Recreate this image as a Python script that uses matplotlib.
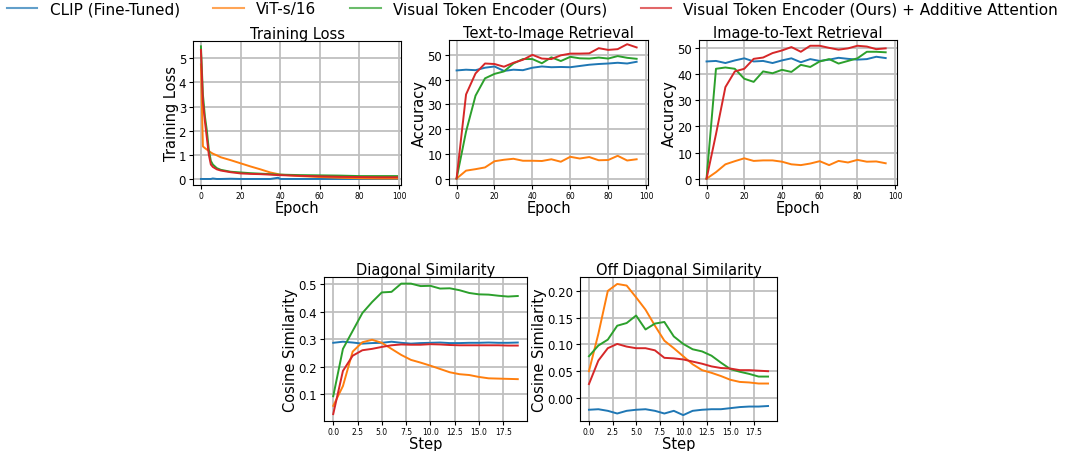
import matplotlib
matplotlib.use('Agg')
import matplotlib.pyplot as plt
from matplotlib.lines import Line2D
from matplotlib.ticker import MultipleLocator

names = ['CLIP (Fine-Tuned)', 'ViT-s/16', 'Visual Token Encoder (Ours)',
         'Visual Token Encoder (Ours) + Additive Attention']
colors = ['tab:blue', 'tab:orange', 'tab:green', 'tab:red']

# training loss (logged at these epochs)
loss_epochs = [0, 1, 2, 3, 4, 5, 6, 8, 10, 15, 20, 25, 30, 35, 39, 40, 50, 60, 70, 80, 90, 99]
loss_clip = [0.0, 0.0, 0.0, 0.0, 0.0, 0.0, 0.02, 0.0, 0.0, 0.01, 0.0, 0.0, 0.0, 0.0, 0.05,
             0.0, 0.0, 0.0, 0.0, 0.0, 0.0, 0.0]
loss_vit = [4.75, 1.35, 1.28, 1.22, 1.16, 1.1, 1.05, 0.98, 0.9, 0.78, 0.65, 0.52, 0.4, 0.27,
            0.2, 0.18, 0.12, 0.08, 0.05, 0.03, 0.02, 0.02]
loss_vte = [5.5, 3.5, 2.6, 2.0, 1.2, 0.75, 0.6, 0.45, 0.38, 0.3, 0.27, 0.24, 0.22, 0.2, 0.18,
            0.18, 0.16, 0.15, 0.14, 0.12, 0.12, 0.12]
loss_vte_add = [5.35, 3.2, 2.4, 1.7, 1.0, 0.6, 0.5, 0.4, 0.35, 0.28, 0.23, 0.21, 0.2, 0.18,
                0.16, 0.16, 0.13, 0.11, 0.09, 0.08, 0.07, 0.07]

# retrieval accuracy, every 5 epochs
ret_epochs = [0, 5, 10, 15, 20, 25, 30, 35, 40, 45, 50, 55, 60, 65, 70, 75, 80, 85, 90, 95]
t2i_clip = [43.7, 44.0, 43.8, 44.8, 45.3, 43.5, 44.0, 43.8, 44.8, 45.3, 45.0, 45.1, 45.0,
            45.5, 46.0, 46.3, 46.5, 46.8, 46.5, 47.2]
t2i_vit = [0, 3.2, 3.8, 4.5, 7.0, 7.6, 8.0, 7.2, 7.2, 7.1, 7.8, 6.8, 8.8, 8.1, 8.7, 7.4,
           7.5, 9.2, 7.3, 7.8]
t2i_vte = [0, 19, 33.5, 40.5, 42.3, 43.3, 46.5, 48.3, 48.3, 46.6, 49.0, 47.5, 49.2, 48.6,
           48.5, 48.9, 48.5, 49.5, 48.8, 48.4]
t2i_vte_add = [0, 34, 42.5, 46.5, 46.3, 45.2, 46.8, 48.0, 50.0, 48.5, 48.3, 49.8, 50.5,
               50.5, 50.6, 52.7, 52.0, 52.3, 54.3, 53.0]

i2t_clip = [44.8, 45.0, 44.2, 45.2, 46.0, 44.8, 45.0, 44.2, 45.2, 46.0, 44.5, 45.7, 45.0,
            45.5, 46.2, 45.8, 45.5, 45.7, 46.6, 46.1]
i2t_vit = [0, 2.5, 5.5, 6.7, 7.8, 6.8, 7.0, 7.0, 6.5, 5.5, 5.2, 5.8, 6.7, 5.2, 6.8, 6.2,
           7.2, 6.5, 6.6, 5.9]
i2t_vte = [0, 42.0, 42.5, 42.0, 38.2, 37.0, 41.0, 40.3, 41.6, 40.8, 43.5, 42.7, 44.8, 45.7,
           44.0, 45.0, 46.0, 48.5, 48.5, 48.3]
i2t_vte_add = [0, 17, 35, 41, 42, 45.8, 46.3, 48.0, 49.0, 50.3, 48.5, 50.8, 50.8, 50.0,
               49.3, 49.8, 50.8, 50.5, 49.5, 49.8]

# cosine similarity per step
steps = list(range(20))
diag_clip = [0.287, 0.291, 0.288, 0.284, 0.286, 0.287, 0.291, 0.287, 0.284, 0.286, 0.287,
             0.288, 0.286, 0.286, 0.287, 0.287, 0.288, 0.287, 0.287, 0.288]
diag_vit = [0.058, 0.13, 0.255, 0.289, 0.298, 0.287, 0.265, 0.243, 0.225, 0.215, 0.204,
            0.192, 0.18, 0.173, 0.17, 0.163, 0.158, 0.157, 0.156, 0.155]
diag_vte = [0.093, 0.265, 0.33, 0.395, 0.435, 0.47, 0.472, 0.502, 0.502, 0.493, 0.494,
            0.484, 0.485, 0.478, 0.468, 0.463, 0.462, 0.458, 0.455, 0.457]
diag_vte_add = [0.028, 0.185, 0.24, 0.26, 0.265, 0.272, 0.278, 0.281, 0.28, 0.28, 0.282,
                0.281, 0.279, 0.278, 0.278, 0.278, 0.278, 0.278, 0.277, 0.277]

off_clip = [-0.022, -0.021, -0.024, -0.029, -0.024, -0.022, -0.021, -0.024, -0.029, -0.024,
            -0.032, -0.024, -0.022, -0.021, -0.021, -0.019, -0.017, -0.016, -0.016, -0.015]
off_vit = [0.05, 0.12, 0.2, 0.213, 0.21, 0.188, 0.165, 0.135, 0.107, 0.093, 0.078, 0.063,
           0.052, 0.047, 0.041, 0.034, 0.03, 0.029, 0.027, 0.027]
off_vte = [0.078, 0.098, 0.109, 0.135, 0.14, 0.154, 0.128, 0.139, 0.142, 0.115, 0.101,
           0.091, 0.087, 0.079, 0.066, 0.054, 0.049, 0.045, 0.04, 0.04]
off_vte_add = [0.026, 0.07, 0.093, 0.101, 0.096, 0.093, 0.093, 0.089, 0.075, 0.074, 0.072,
               0.068, 0.064, 0.059, 0.056, 0.055, 0.052, 0.052, 0.051, 0.05]

fig = plt.figure(figsize=(10.65, 4.52), dpi=100)
W, H = 1065, 452


def make_ax(l, t, r, b):
    return fig.add_axes([l / W, 1 - b / H, (r - l) / W, (b - t) / H])


def style(ax, title, xlabel, ylabel):
    ax.set_title(title, fontsize=10.5, pad=2)
    ax.set_xlabel(xlabel, fontsize=10.5, labelpad=-0.5)
    ax.set_ylabel(ylabel, fontsize=10.5, labelpad=0)
    ax.grid(True, linewidth=1.3, color='0.75')
    ax.tick_params(axis='x', labelsize=5.5, pad=1.5, length=3)
    ax.tick_params(axis='y', labelsize=8.5, pad=2, length=3)


panels = [
    ((193, 42, 401, 186), loss_epochs, [loss_clip, loss_vit, loss_vte, loss_vte_add],
     'Training Loss', 'Epoch', 'Training Loss', (-0.25, 5.72), 1),
    ((449, 41, 648, 186), ret_epochs, [t2i_clip, t2i_vit, t2i_vte, t2i_vte_add],
     'Text-to-Image Retrieval', 'Epoch', 'Accuracy', (-2.6, 56.0), 10),
    ((699, 41, 897, 186), ret_epochs, [i2t_clip, i2t_vit, i2t_vte, i2t_vte_add],
     'Image-to-Text Retrieval', 'Epoch', 'Accuracy', (-2.4, 53.0), 10),
    ((324, 278, 527, 422), steps, [diag_clip, diag_vit, diag_vte, diag_vte_add],
     'Diagonal Similarity', 'Step', 'Cosine Similarity', (0.003, 0.526), 0.1),
    ((580, 278, 777, 422), steps, [off_clip, off_vit, off_vte, off_vte_add],
     'Off Diagonal Similarity', 'Step', 'Cosine Similarity', (-0.043, 0.226), 0.05),
]

for box, xs, series, title, xl, yl, ylim, ystep in panels:
    ax = make_ax(*box)
    for ys, c in zip(series, colors):
        ax.plot(xs, ys, color=c, linewidth=1.4)
    ax.set_ylim(*ylim)
    ax.yaxis.set_major_locator(MultipleLocator(ystep))
    if xl == 'Epoch':
        ax.set_xlim(-4, 101)
        ax.set_xticks([0, 20, 40, 60, 80, 100])
    else:
        ax.set_xlim(-0.95, 19.95)
        ax.set_xticks([0, 2.5, 5, 7.5, 10, 12.5, 15, 17.5])
    style(ax, title, xl, yl)

handles = [Line2D([], [], color=c, linewidth=1.5, alpha=0.7) for c in colors]
fig.legend(handles, names, loc='upper center', bbox_to_anchor=(0.5, 1.025), ncol=4,
           frameon=False, fontsize=11, columnspacing=2.2, handlelength=2.0,
           handletextpad=0.8)

fig.savefig('out.png', dpi=100)
